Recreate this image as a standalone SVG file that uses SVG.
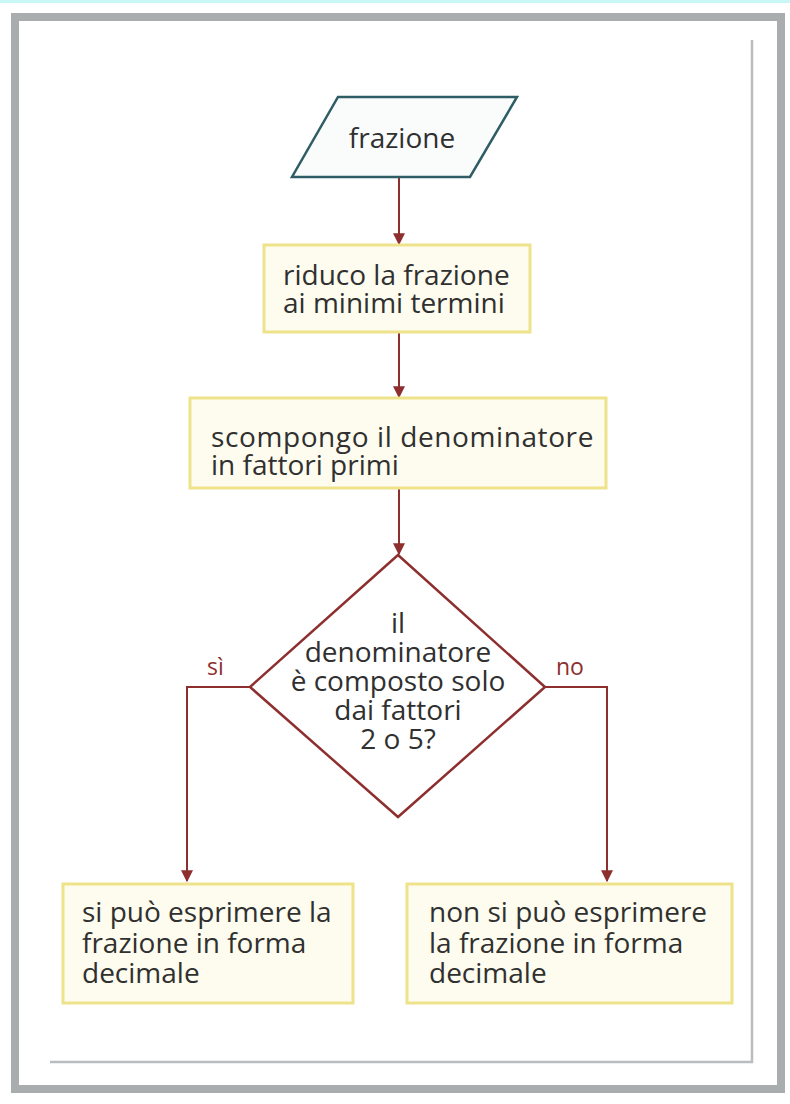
<svg xmlns="http://www.w3.org/2000/svg" width="790" height="1104" viewBox="0 0 790 1104">
<defs>
<style>
.t{font-family:"Open Sans","Liberation Sans",sans-serif;font-size:28px;font-weight:500;fill:#303030}
.box{fill:#fdfcee;stroke:#eee38a;stroke-width:3}
.ln{fill:none;stroke:#8e2f2f;stroke-width:2}
.lbl{font-family:"Open Sans","Liberation Sans",sans-serif;font-size:23px;fill:#8e2f2f}
</style>
<marker id="ah" viewBox="0 0 10 10" refX="9" refY="5" markerWidth="6" markerHeight="6" markerUnits="strokeWidth" orient="auto">
<path d="M0,0 L10,5 L0,10 z" fill="#8e2f2f"/>
</marker>
</defs>
<rect x="0" y="0" width="790" height="1104" fill="#ffffff"/>
<rect x="0" y="0" width="790" height="3" fill="#c9f6f6"/>
<g id="frame">
<rect x="15" y="17" width="766" height="1072" fill="#ffffff" stroke="#a9adae" stroke-width="8"/>
<polyline points="752,40 752,1062 50,1062" fill="none" stroke="#b9bdbe" stroke-width="2.5"/>
</g>
<g id="connectors">
<line class="ln" x1="399" y1="178" x2="399" y2="244" marker-end="url(#ah)"/>
<line class="ln" x1="399" y1="333" x2="399" y2="397" marker-end="url(#ah)"/>
<line class="ln" x1="399" y1="489" x2="399" y2="554" marker-end="url(#ah)"/>
<polyline class="ln" points="250,687 187,687 187,881" marker-end="url(#ah)"/>
<polyline class="ln" points="545,687 607,687 607,881" marker-end="url(#ah)"/>
<text class="lbl" x="207" y="675">sì</text>
<text class="lbl" x="556" y="675">no</text>
</g>
<g id="n1">
<polygon points="338,97 517,97 470,177 292,177" fill="#fafcfc" stroke="#2f5d66" stroke-width="2.5"/>
<text class="t" x="402" y="148" text-anchor="middle">frazione</text>
</g>
<g id="n2">
<rect class="box" x="264" y="245" width="266" height="87"/>
<text class="t" x="283" y="285">riduco la frazione</text>
<text class="t" x="283" y="313">ai minimi termini</text>
</g>
<g id="n3">
<rect class="box" x="190" y="398" width="416" height="90"/>
<text class="t" x="211" y="447" letter-spacing="0.6">scompongo il denominatore</text>
<text class="t" x="211" y="475">in fattori primi</text>
</g>
<g id="n4">
<polygon points="398,555 545,687 398,817 250,687" fill="#ffffff" stroke="#8e2f2f" stroke-width="2.5"/>
<text class="t" x="398" y="633" text-anchor="middle">il</text>
<text class="t" x="398" y="662" text-anchor="middle">denominatore</text>
<text class="t" x="398" y="691" text-anchor="middle">è composto solo</text>
<text class="t" x="398" y="720" text-anchor="middle">dai fattori</text>
<text class="t" x="398" y="749" text-anchor="middle">2 o 5?</text>
</g>
<g id="n5">
<rect class="box" x="63" y="884" width="290" height="119"/>
<text class="t" x="82" y="922">si può esprimere la</text>
<text class="t" x="82" y="953">frazione in forma</text>
<text class="t" x="82" y="983">decimale</text>
</g>
<g id="n6">
<rect class="box" x="407" y="884" width="325" height="119"/>
<text class="t" x="429" y="922">non si può esprimere</text>
<text class="t" x="429" y="953">la frazione in forma</text>
<text class="t" x="429" y="983">decimale</text>
</g>
</svg>
